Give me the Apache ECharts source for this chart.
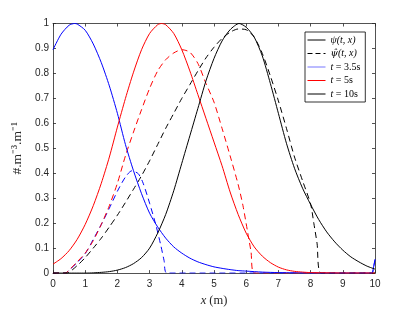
<!DOCTYPE html>
<html>
<head>
<meta charset="utf-8">
<script src="https://cdn.jsdelivr.net/npm/echarts@6/dist/echarts.min.js"></script>
<style>
html,body{margin:0;padding:0;background:#fff;}
#c{width:415px;height:312px;}
</style>
</head>
<body>
<div id="c"></div>
<script>
// ---- data ----
const xTickLabels = ['0','1','2','3','4','5','6','7','8','9','10'];
const yTickLabels = ['0','0.1','0.2','0.3','0.4','0.5','0.6','0.7','0.8','0.9','1'];

// t = 3.5 s, psi (solid blue)
const xBlueSolid = [0,0.25,0.5,0.67,0.75,1,1.25,1.5,1.75,2,2.25,2.5,2.75,3,3.25,3.5,3.75,4,4.25,4.5,4.75,5,5.25,5.5,5.75,6,6.5,7,7.5,8,9,9.9,9.95,10];
const yBlueSolid = [0.895,0.957,0.993,1.0,0.998,0.973,0.918,0.843,0.75,0.64,0.515,0.41,0.318,0.24,0.185,0.14,0.105,0.08,0.06,0.045,0.034,0.025,0.019,0.014,0.01,0.008,0.004,0.002,0.001,0.0005,0,0,0.02,0.055];
// t = 3.5 s, psi hat (dashed blue)
const xBlueDash = [0,0.38,0.5,0.75,1,1.25,1.5,1.75,2,2.25,2.45,2.65,2.8,3,3.2,3.35,3.45,3.54,9.9,9.95,10];
const yBlueDash = [0,0,0.012,0.042,0.078,0.135,0.195,0.26,0.328,0.385,0.41,0.398,0.36,0.28,0.19,0.11,0.05,0,0,0.02,0.055];

// t = 5 s, psi (solid red)
const xRedSolid = [0,0.25,0.5,0.75,1,1.25,1.5,1.75,2,2.25,2.5,2.75,3,3.25,3.37,3.5,3.75,4,4.25,4.5,4.75,5,5.25,5.5,5.75,6,6.25,6.5,6.75,7,7.25,7.5,7.75,8,8.5,9,10];
const yRedSolid = [0.036,0.058,0.09,0.135,0.195,0.27,0.36,0.465,0.585,0.70,0.805,0.895,0.96,0.995,1.0,0.995,0.96,0.895,0.81,0.715,0.62,0.525,0.43,0.325,0.235,0.16,0.105,0.068,0.042,0.024,0.013,0.007,0.004,0.002,0.001,0,0];
// t = 5 s, psi hat (dashed red)
const xRedDash = [0,0.38,0.5,0.75,1,1.25,1.5,1.75,2,2.25,2.5,2.75,3,3.25,3.5,3.75,4,4.25,4.5,4.75,5,5.25,5.5,5.75,5.9,6.05,6.15,6.25,10];
const yRedDash = [0,0,0.012,0.045,0.08,0.13,0.195,0.27,0.36,0.47,0.565,0.655,0.74,0.81,0.855,0.882,0.895,0.885,0.84,0.76,0.685,0.58,0.47,0.355,0.27,0.16,0.085,0,0];

// t = 10 s, psi (solid black)
const xBlackSolid = [0,1,1.25,1.5,1.75,2,2.25,2.5,2.75,3,3.25,3.5,3.75,4,4.25,4.5,4.75,5,5.25,5.5,5.78,6,6.25,6.5,6.75,7,7.25,7.5,7.75,8,8.25,8.5,8.75,9,9.25,9.5,9.75,10];
const yBlackSolid = [0,0,0.001,0.003,0.006,0.012,0.022,0.038,0.062,0.10,0.16,0.235,0.33,0.44,0.55,0.66,0.77,0.86,0.93,0.975,1.0,0.985,0.945,0.87,0.76,0.64,0.52,0.42,0.34,0.275,0.215,0.165,0.125,0.092,0.065,0.045,0.028,0.016];
// t = 10 s, psi hat (dashed black)
const xBlackDash = [0,0.42,0.75,1,1.25,1.5,1.75,2,2.25,2.5,2.75,3,3.25,3.5,3.75,4,4.25,4.5,4.75,5,5.25,5.5,5.75,6,6.25,6.5,6.75,7,7.25,7.5,7.75,8,8.1,8.2,8.33,10];
const yBlackDash = [0,0,0.03,0.062,0.1,0.14,0.185,0.232,0.283,0.336,0.39,0.45,0.515,0.58,0.64,0.70,0.755,0.81,0.862,0.905,0.94,0.965,0.978,0.975,0.945,0.88,0.79,0.69,0.58,0.465,0.37,0.277,0.2,0.12,0,0];

const legendNames = ['psi','psihat','t35','t5','t10'];
const legendLabels = {
  psi: '{i|ψ(t, x)}',
  psihat: '{h|ψ̂}{i|(t, x)}',
  t35: '{i|t} = 3.5s',
  t5: '{i|t} = 5s',
  t10: '{i|t} = 10s'
};

function pairs(xs, ys){ return xs.map((x,i)=>[x, ys[i]]); }

const AX = '#262626';
const tickFont = {fontFamily:'Liberation Sans', fontSize:10, color:AX};
const serif = 'Liberation Serif';

function curve(name, xs, ys, color, dashed){
  return {
    name: name, type:'line', data: pairs(xs, ys), showSymbol:false, symbol:'none',
    smooth: 0.25, clip:true, silent:true, animation:false,
    lineStyle:{color:color, width:1, type: dashed ? [6,4] : 'solid'},
    itemStyle:{color:color}
  };
}
function legendSeries(name, color, dashed){
  return {
    name:name, type:'line', data:[], symbol:'none', symbolSize:0, animation:false,
    lineStyle:{color:color, width:1, type: dashed ? [5,3] : 'solid'},
    itemStyle:{color:color}
  };
}

const chart = echarts.init(document.getElementById('c'), null, {renderer:'canvas'});
chart.setOption({
  backgroundColor:'#fff',
  animation:false,
  grid:{left:53, right:40, top:23.5, bottom:35},
  legend:{
    data: legendNames, orient:'vertical', left:305, top:32,
    itemWidth:18, itemHeight:8, itemGap:3.5,
    padding:[3,5,3,2],
    borderColor:'#000', borderWidth:0.8, backgroundColor:'#fff',
    itemStyle:{opacity:0, borderWidth:0},
    lineStyle:{width:1},
    formatter: n => legendLabels[n],
    textStyle:{fontFamily:serif, fontSize:10, color:'#000',
      rich:{
        i:{fontFamily:serif, fontStyle:'italic', fontSize:10, color:'#000'},
        h:{fontFamily:'DejaVu Serif', fontStyle:'italic', fontSize:9.5, color:'#000'}
      }},
    selectedMode:false
  },
  xAxis:[
    {type:'value', min:0, max:10, interval:1, position:'bottom',
      axisLine:{onZero:false, lineStyle:{color:AX, width:0.8}},
      axisTick:{inside:true, length:3, lineStyle:{color:AX, width:0.8}},
      axisLabel:Object.assign({margin:6, formatter:(v)=>xTickLabels[Math.round(v)]}, tickFont),
      splitLine:{show:false},
      name:'{i|x} (m)', nameLocation:'middle', nameGap:19,
      nameTextStyle:{fontFamily:serif, fontSize:12.5, color:AX,
        rich:{i:{fontFamily:serif, fontStyle:'italic', fontSize:12.5, color:AX}}}
    },
    {type:'value', min:0, max:10, interval:1, position:'top',
      axisLine:{onZero:false, lineStyle:{color:AX, width:0.8}},
      axisTick:{inside:true, length:3, lineStyle:{color:AX, width:0.8}},
      axisLabel:{show:false}, splitLine:{show:false}}
  ],
  yAxis:[
    {type:'value', min:0, max:1, interval:0.1, position:'left',
      axisLine:{onZero:false, lineStyle:{color:AX, width:0.8}},
      axisTick:{inside:true, length:3, lineStyle:{color:AX, width:0.8}},
      axisLabel:Object.assign({margin:4, formatter:(v)=>yTickLabels[Math.round(v*10)]}, tickFont),
      splitLine:{show:false},
      name:'#.m⁻³.m⁻¹', nameLocation:'middle', nameGap:26, nameRotate:90,
      nameTextStyle:{fontFamily:serif, fontSize:13.5, color:AX}
    },
    {type:'value', min:0, max:1, interval:0.1, position:'right',
      axisLine:{onZero:false, lineStyle:{color:AX, width:0.8}},
      axisTick:{inside:true, length:3, lineStyle:{color:AX, width:0.8}},
      axisLabel:{show:false}, splitLine:{show:false}}
  ],
  series:[
    curve('b_hat', xBlueDash, yBlueDash, '#0000ff', true),
    curve('r_hat', xRedDash, yRedDash, '#ff0000', true),
    curve('k_hat', xBlackDash, yBlackDash, '#000000', true),
    curve('b_psi', xBlueSolid, yBlueSolid, '#0000ff', false),
    curve('r_psi', xRedSolid, yRedSolid, '#ff0000', false),
    curve('k_psi', xBlackSolid, yBlackSolid, '#000000', false),
    legendSeries('psi', '#000000', false),
    legendSeries('psihat', '#000000', true),
    legendSeries('t35', '#7777ff', false),
    legendSeries('t5', '#ff0000', false),
    legendSeries('t10', '#000000', false)
  ]
});
</script>
</body>
</html>
